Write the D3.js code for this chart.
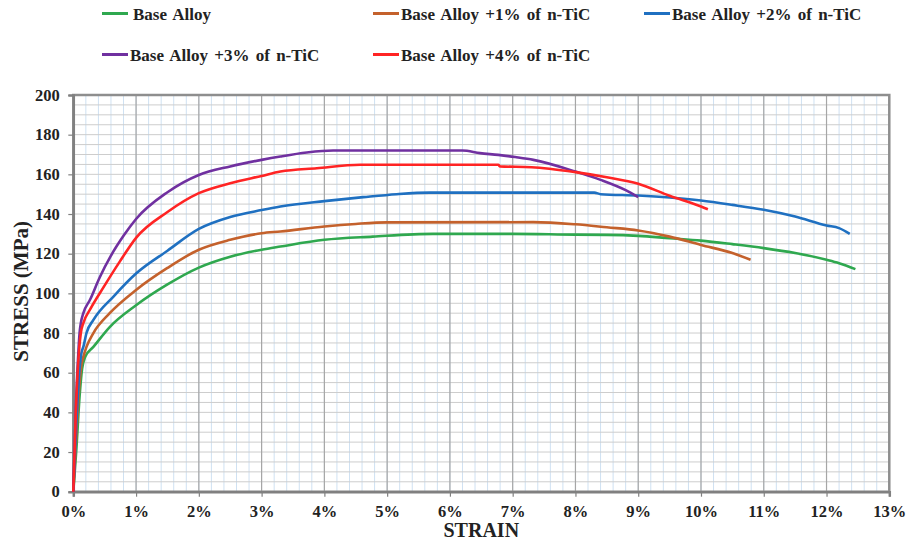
<!DOCTYPE html>
<html>
<head>
<meta charset="utf-8">
<script src="https://cdnjs.cloudflare.com/ajax/libs/d3/7.8.5/d3.min.js"></script>
<style>
  body { margin: 0; background: #fff; }
  text { font-family: "Liberation Serif", "Times New Roman", serif; font-weight: bold; fill: #222; }
</style>
</head>
<body>
<script>
// [strain %, stress MPa]
const seriesNames = ["Base Alloy", "Base Alloy +1% of n-TiC", "Base Alloy +2% of n-TiC",
                     "Base Alloy +3% of n-TiC", "Base Alloy +4% of n-TiC"];
const seriesColors = ["#2fa84f", "#c4612c", "#1f70c1", "#7030a0", "#ff2424"];

const base = [[0,0],[0.05,22],[0.1,48],[0.14,62],[0.19,68],[0.32,73],[0.58,83],[1.0,94],[1.5,104.5],
  [2.0,113],[2.5,118.5],[3.0,122],[3.3,123.6],[4.0,127],[4.77,128.6],[5.73,130],[7,130],[8,129.6],
  [8.5,129.5],[9,129],[9.5,127.8],[10,126.6],[10.5,124.8],[11,122.8],[11.5,120.3],[12,116.9],
  [12.2,115.2],[12.46,112.2]];
const tic1 = [[0,0],[0.05,30],[0.1,55],[0.13,64],[0.16,68],[0.21,73],[0.32,80],[0.58,90],[1.0,101.7],
  [1.5,112.8],[2.0,122],[2.5,127],[3.0,130.3],[3.3,131.2],[4.0,133.7],[4.5,135],[5.0,135.8],
  [7.33,135.9],[8,134.8],[8.5,133.3],[9,131.7],[9.5,128.6],[10,124.4],[10.5,120.3],[10.79,116.9]];
const tic2 = [[0,0],[0.05,35],[0.1,62],[0.13,70],[0.16,73],[0.21,80],[0.32,86.6],[0.64,98.4],[1.0,110],
  [1.5,121.5],[2.0,132.5],[2.5,138.5],[3.0,142],[3.3,143.8],[4.0,146.5],[4.62,148.5],[5.15,150],
  [5.68,150.8],[8.3,150.8],[8.4,150],[9,149.3],[9.5,148.3],[10,146.8],[10.5,144.6],[11,142.1],
  [11.5,138.7],[12,134.2],[12.2,132.9],[12.37,130]];
const tic3 = [[0,0],[0.04,42],[0.08,70],[0.1,80],[0.12,85],[0.16,90],[0.27,97],[0.42,108],[0.6,119],
  [0.8,129],[1.0,137.5],[1.5,151],[2.0,159.7],[2.5,164],[3.0,167.3],[3.3,169],[3.72,171],[4.14,172],
  [6.2,172],[6.48,170.7],[6.77,169.8],[7.04,168.7],[7.33,167.3],[8,161.4],[8.4,157.2],[8.8,152],
  [9.0,148.5]];
const tic4 = [[0,0],[0.04,40],[0.08,66],[0.12,80],[0.16,85],[0.27,92],[0.48,103],[0.74,116],[1.0,128],
  [1.5,141],[2.0,150.5],[2.5,155.5],[3.0,159.2],[3.3,161.4],[3.88,163.1],[4.57,164.8],[6.77,164.8],
  [6.8,164],[7.3,163.6],[8,161.1],[8.5,158.5],[9,155.2],[9.5,149.2],[10,143.8],[10.11,142.4]];
const allSeries = [base, tic1, tic2, tic3, tic4];

const xTicks = d3.range(0, 14);          // 0% .. 13%
const yTicks = d3.range(0, 201, 20);

const W = 906, H = 541;
const svg = d3.select("body").append("svg").attr("width", W).attr("height", H);

const x = d3.scaleLinear().domain([0, 13]).range([73.3, 889.3]);
const y = d3.scaleLinear().domain([0, 200]).range([491.7, 95]);

const g = svg.append("g");

// minor vertical grid (light blue) every 0.2%
g.selectAll(".vminor").data(d3.range(0, 13.01, 0.2)).enter().append("line")
  .attr("x1", d => x(d)).attr("x2", d => x(d)).attr("y1", y(0)).attr("y2", y(200))
  .attr("stroke", "#cfe1f2").attr("stroke-width", 1);
// horizontal grid every 5
g.selectAll(".hminor").data(d3.range(0, 201, 5)).enter().append("line")
  .attr("x1", x(0)).attr("x2", x(13)).attr("y1", d => y(d)).attr("y2", d => y(d))
  .attr("stroke", "#cdcdcd").attr("stroke-width", 1);
// major vertical
g.selectAll(".vmajor").data(xTicks).enter().append("line")
  .attr("x1", d => x(d)).attr("x2", d => x(d)).attr("y1", y(0)).attr("y2", y(200))
  .attr("stroke", "#a6a6a6").attr("stroke-width", 1.2);

// frame
svg.append("rect").attr("x", x(0)).attr("y", y(200)).attr("width", x(13) - x(0)).attr("height", y(0) - y(200))
  .attr("fill", "none").attr("stroke", "#8e8e8e").attr("stroke-width", 2.5);

// axes
const xAxis = d3.axisBottom(x).tickValues(xTicks).tickSize(5).tickFormat(d => d + "%");
const yAxis = d3.axisLeft(y).tickValues(yTicks).tickSize(5);
const gx = svg.append("g").attr("transform", `translate(0,${y(0)})`).call(xAxis);
const gy = svg.append("g").attr("transform", `translate(${x(0)},0)`).call(yAxis);
[gx, gy].forEach(a => {
  a.select(".domain").attr("stroke", "#808080").attr("stroke-width", 2.5);
  a.selectAll(".tick line").attr("stroke", "#808080").attr("stroke-width", 1.2);
  a.selectAll(".tick text").style("font-size", "16.5px").style("font-family", "Liberation Serif")
    .style("font-weight", "bold").attr("fill", "#222");
});
gx.selectAll(".tick text").attr("dy", "1.02em");
gy.selectAll(".tick text").attr("x", -13.5);

// curves
const line = d3.line().x(d => x(d[0])).y(d => y(d[1])).curve(d3.curveMonotoneX);
svg.selectAll(".curve").data(allSeries).enter().append("path")
  .attr("d", line).attr("fill", "none")
  .attr("stroke", (d, i) => seriesColors[i]).attr("stroke-width", 2.6);

// axis titles
svg.append("text").attr("x", x(6.5)).attr("y", 537).attr("text-anchor", "middle")
  .style("font-size", "20px").text("STRAIN");
svg.append("text").attr("transform", `translate(28,${y(100) - 2}) rotate(-90)`).attr("text-anchor", "middle")
  .style("font-size", "21px").text("STRESS (MPa)");

// legend
const legendPos = [[102, 13.5], [373, 13.5], [644, 13.5], [102, 54.5], [373, 54.5]];
const leg = svg.selectAll(".leg").data(seriesNames).enter().append("g")
  .attr("transform", (d, i) => `translate(${legendPos[i][0]},${legendPos[i][1]})`);
leg.append("line").attr("x1", 0).attr("x2", 26).attr("y1", 0).attr("y2", 0)
  .attr("stroke", (d, i) => seriesColors[i]).attr("stroke-width", 3);
leg.append("text").attr("x", (d, i) => i === 0 ? 31 : 28).attr("y", 6)
  .style("font-size", "17px").style("word-spacing", "2px").text(d => d);
</script>
</body>
</html>
